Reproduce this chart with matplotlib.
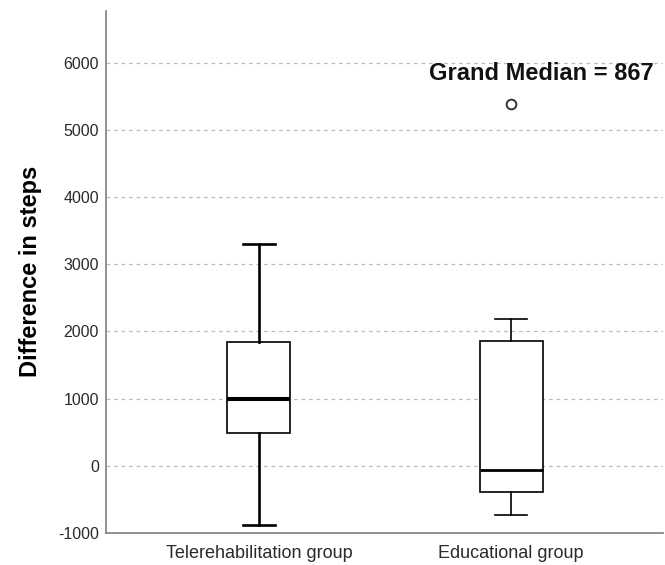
import matplotlib
matplotlib.use("Agg")
import matplotlib.pyplot as plt

plt.rcParams['font.family'] = ['Liberation Sans', 'DejaVu Sans']
plt.rcParams['axes.unicode_minus'] = False

categories = ["Telerehabilitation group", "Educational group"]
whisker_low = [-880, -740]
q1 = [485, -400]
medians = [1000, -70]
q3 = [1845, 1860]
whisker_high = [3300, 2185]
outliers = [[], [5390]]
grand_median = 867
yticks = [-1000, 0, 1000, 2000, 3000, 4000, 5000, 6000]

fig = plt.figure(figsize=(6.65, 5.65), dpi=100)
ax = fig.add_axes([106/665, 1-532.7/565, (663-106)/665, (532.7-10.8)/565])

styles = [dict(wl=1.9, ml=2.9), dict(wl=1.2, ml=2.0)]
for i, cat in enumerate(categories):
    stats = [dict(label=cat, whislo=whisker_low[i], q1=q1[i], med=medians[i],
                  q3=q3[i], whishi=whisker_high[i], fliers=outliers[i])]
    ax.bxp(stats, positions=[i + 1], widths=0.25, patch_artist=True,
           boxprops=dict(facecolor='white', edgecolor='black', linewidth=1.2),
           whiskerprops=dict(color='black', linewidth=styles[i]['wl']),
           capprops=dict(color='black', linewidth=styles[i]['wl']),
           medianprops=dict(color='black', linewidth=styles[i]['ml'], solid_capstyle='butt'),
           flierprops=dict(marker='o', markersize=7, markerfacecolor='white',
                           markeredgecolor='#333333', markeredgewidth=1.4),
           capwidths=0.128, zorder=3)

ax.set_xlim(0.393, 2.603)
ax.set_ylim(-1000, 6780)
ax.set_yticks(yticks)
ax.set_xticks([1, 2])
ax.set_xticklabels(categories)
ax.tick_params(axis='both', length=0, labelsize=11.5, labelcolor='#2a2a2a')
ax.tick_params(axis='x', pad=9, labelsize=13)
ax.tick_params(axis='y', pad=5)
ax.yaxis.grid(True, color='#bdbdbd', linewidth=0.9, linestyle=(0, (3, 3)))
ax.set_axisbelow(True)
for s in ['top', 'right']:
    ax.spines[s].set_visible(False)
for s in ['left', 'bottom']:
    ax.spines[s].set_color('#888888')
    ax.spines[s].set_linewidth(1.3)

ax.set_ylabel("Difference in steps", fontsize=17, fontweight='bold', labelpad=12)
ax.text(2.119, 5840, f"Grand Median = {grand_median}", fontsize=17,
        fontweight='bold', ha='center', va='center', color='#111111')

fig.savefig("out.png", dpi=100)
